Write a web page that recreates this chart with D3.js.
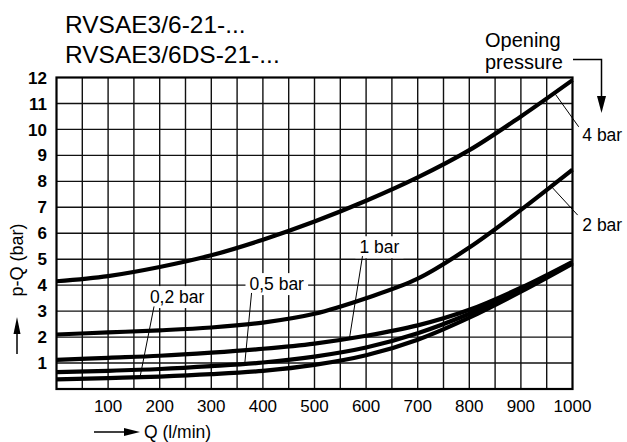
<!DOCTYPE html>
<html><head><meta charset="utf-8">
<script src="https://cdn.jsdelivr.net/npm/d3@7"></script>
<style>
body{margin:0;background:#fff}
svg{display:block}
text{font-family:"Liberation Sans",Arial,Helvetica,sans-serif;fill:#000}
</style>
</head><body>
<svg id="c" width="627" height="442"></svg>
<script>
// ---- data ----
const flow   = [0,100,200,300,400,500,600,700,800,900,1000];
const p4bar  = [4.15,4.35,4.7,5.15,5.75,6.45,7.25,8.15,9.2,10.5,11.9];
const p2bar  = [2.1,2.18,2.26,2.37,2.56,2.9,3.5,4.25,5.45,6.9,8.45];
const p1bar  = [1.12,1.2,1.28,1.4,1.55,1.75,2.05,2.45,3.05,3.9,4.9];
const p05bar = [0.65,0.7,0.77,0.88,1.02,1.25,1.6,2.15,2.9,3.82,4.87];
const p02bar = [0.37,0.42,0.48,0.57,0.7,0.93,1.3,1.9,2.75,3.75,4.83];
const seriesNames = ["4 bar","2 bar","1 bar","0,5 bar","0,2 bar"];
const xTickLabels = [100,200,300,400,500,600,700,800,900,1000];
const yTickLabels = [1,2,3,4,5,6,7,8,9,10,11,12];
const titleLines = ["RVSAE3/6-21-...","RVSAE3/6DS-21-..."];

// annotation anchors in data units: text position, pointer start, pointer end
const annotations = [
  {name:"4 bar",   tq:1019, tv:9.55, q1:1012, v1:10.1, q2:967, v2:11.35, box:false},
  {name:"2 bar",   tq:1019, tv:6.1,  q1:1010, v1:6.7,  q2:959, v2:7.8,   box:false},
  {name:"1 bar",   tq:587,  tv:5.23, q1:593,  v1:5.12, q2:568, v2:1.98,  box:true},
  {name:"0,5 bar", tq:374,  tv:3.81, q1:378,  v1:3.7,  q2:365, v2:1.0,   box:true},
  {name:"0,2 bar", tq:181,  tv:3.31, q1:189,  v1:3.18, q2:162, v2:0.47,  box:true}
];

const svg = d3.select("#c");
const x = d3.scaleLinear().domain([0,1000]).range([56.5,572.5]);
const y = d3.scaleLinear().domain([0,12]).range([389,77.5]);

// grid
const g = svg.append("g");
g.selectAll("line.v").data(d3.range(50,1000,50)).join("line")
  .attr("x1",d=>x(d)).attr("x2",d=>x(d)).attr("y1",y(0)).attr("y2",y(12))
  .attr("stroke","#111").attr("stroke-width",1.4);
g.selectAll("line.h").data(d3.range(1,12,1)).join("line")
  .attr("y1",d=>y(d)).attr("y2",d=>y(d)).attr("x1",x(0)).attr("x2",x(1000))
  .attr("stroke","#111").attr("stroke-width",1.4);
g.append("rect").attr("x",x(0)).attr("y",y(12)).attr("width",x(1000)-x(0)).attr("height",y(0)-y(12))
  .attr("fill","none").attr("stroke","#000").attr("stroke-width",2.2);

// tick labels
svg.append("g").selectAll("text").data(xTickLabels).join("text")
  .attr("x",d=>x(d)).attr("y",412).attr("text-anchor","middle")
  .attr("font-size",17).text(d=>d);
svg.append("g").selectAll("text").data(yTickLabels).join("text")
  .attr("x",47).attr("y",d=>y(d)).attr("dy","0.36em").attr("text-anchor","end")
  .attr("font-size",17).attr("font-weight","bold").text(d=>d);

// curves
const allSeries = [p4bar,p2bar,p1bar,p05bar,p02bar];
const line = d3.line().x(d=>x(d[0])).y(d=>y(d[1])).curve(d3.curveCatmullRom.alpha(0.5));
svg.append("g").selectAll("path").data(allSeries).join("path")
  .attr("d",s=>line(flow.map((q,i)=>[q,s[i]])))
  .attr("fill","none").attr("stroke","#000").attr("stroke-width",4.2)
  .attr("stroke-linecap","butt");

// annotations
const ag = svg.append("g");
annotations.forEach(a=>{
  const t = ag.append("text").attr("x",x(a.tq)).attr("y",y(a.tv))
    .attr("font-size",17.5).text(a.name);
  if(a.box){
    const b = t.node().getBBox();
    ag.insert("rect","text").attr("x",b.x-4).attr("y",b.y-1)
      .attr("width",b.width+8).attr("height",b.height+2).attr("fill","#fff");
  }
  ag.append("line").attr("x1",x(a.q1)).attr("y1",y(a.v1)).attr("x2",x(a.q2)).attr("y2",y(a.v2))
    .attr("stroke","#000").attr("stroke-width",1);
});

// title
svg.append("g").selectAll("text").data(titleLines).join("text")
  .attr("x",65).attr("y",(d,i)=>33+i*29.5).attr("font-size",24.5).text(d=>d);

// opening pressure
svg.append("text").attr("x",485).attr("y",47).attr("font-size",20).text("Opening");
svg.append("text").attr("x",485).attr("y",69).attr("font-size",20).text("pressure");
svg.append("path").attr("d","M573,59.5 H601.5 V100").attr("fill","none").attr("stroke","#000").attr("stroke-width",1.5);
svg.append("path").attr("d","M597,96 L606,96 L601.5,113 Z").attr("fill","#000");

// axis titles
svg.append("text").attr("transform","translate(23,260) rotate(-90)").attr("text-anchor","middle")
  .attr("font-size",18).text("p-Q (bar)");
svg.append("line").attr("x1",17).attr("x2",17).attr("y1",354).attr("y2",330).attr("stroke","#000").attr("stroke-width",1.5);
svg.append("path").attr("d","M13.5,334 L20.5,334 L17,317 Z").attr("fill","#000");

svg.append("line").attr("x1",94).attr("x2",128).attr("y1",432).attr("y2",432).attr("stroke","#000").attr("stroke-width",1.5);
svg.append("path").attr("d","M124,428 L124,436 L140,432 Z").attr("fill","#000");
svg.append("text").attr("x",144).attr("y",438).attr("font-size",17.5).text("Q (l/min)");
</script>
</body></html>
